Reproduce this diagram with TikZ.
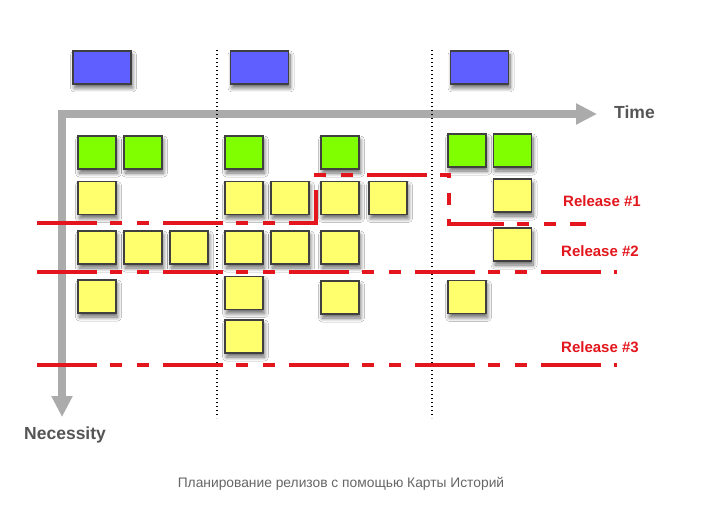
\documentclass[tikz,border=0pt]{standalone}
\usepackage{fontspec}
\setmainfont{Liberation Sans}
\usetikzlibrary{arrows.meta,shadows.blur}
\definecolor{axisgray}{HTML}{ABABAB}
\definecolor{labelgray}{HTML}{555555}
\definecolor{relred}{HTML}{E3161D}
\definecolor{cardgreen}{HTML}{80FF00}
\definecolor{cardyellow}{HTML}{FFFF6E}
\definecolor{cardblue}{HTML}{5F5FFF}
\tikzset{
  card/.style={draw=black!75, line width=1.2pt, minimum width=38pt, minimum height=33pt,
    inner sep=0pt, blur shadow={shadow xshift=1.5pt, shadow yshift=-4pt, shadow blur steps=8, shadow blur radius=4pt, shadow opacity=60}},
  greencard/.style={card, fill=cardgreen},
  yellowcard/.style={card, fill=cardyellow},
  bluecard/.style={card, fill=cardblue, minimum width=58pt},
  release/.style={draw=relred, line width=3.2pt, dash pattern=on 60pt off 13pt on 12pt off 15pt on 12pt off 14pt},
  releaselabel/.style={text=relred, font=\bfseries\fontsize{15}{17}\selectfont, anchor=west, inner sep=0pt},
  axislabel/.style={text=labelgray, font=\bfseries\fontsize{17.5}{20}\selectfont, inner sep=0pt},
  iteration/.style={line width=1.4pt, dash pattern=on 1.4pt off 2.6pt}
}
\begin{document}
\begin{tikzpicture}[x=1pt, y=-1pt]
		%%%%% FRAME %%%%%
		\useasboundingbox[fill=white] (0, 0) rectangle (711, 529);
		
		%%%%% AXES %%%%%
		\coordinate (origin) at (62, 114);
		\coordinate (timeend) at (597, 114);
		\coordinate (needend) at (62, 417);
		\draw[axisgray, line width=8pt, miter limit=10, {Triangle[length=21pt, width=20pt]}-{Triangle[length=21pt, width=20pt]}] (needend) -- (origin) -- (timeend);
		\node[axislabel, anchor=west] (time) at (614, 112) {Time};
		\node[axislabel, anchor=west] (necessity) at (24, 435) {Necessity};
		
		%%%%% ITERATIONS %%%%%
		\draw[iteration] (217, 50) -- (217, 418);
		\draw[iteration] (432, 50) -- (432, 418);
		
		%%%%% ACTIVITIES %%%%%
		\node[bluecard] (act1) at (102, 67.5) {};
		\node[bluecard] (act2) at (259.5, 67.5) {};
		\node[bluecard] (act3) at (479.5, 67.5) {};
		
		%%%%% BACKBONE %%%%%
		\node[greencard] (g1) at (97, 152.5) {};
		\node[greencard] (g2) at (143, 152.5) {};
		\node[greencard] (g3) at (244, 152.5) {};
		\node[greencard] (g4) at (340, 152.5) {};
		\node[greencard] (g5) at (467, 150.5) {};
		\node[greencard] (g6) at (512.5, 150.5) {};
		
		%%%%% STORIES %%%%%
		\node[yellowcard] (y11) at (97, 198) {};
		\node[yellowcard] (y13) at (244, 198) {};
		\node[yellowcard] (y14) at (290, 198) {};
		\node[yellowcard] (y15) at (340, 198) {};
		\node[yellowcard] (y16) at (388, 198) {};
		\node[yellowcard] (y17) at (512.5, 195.5) {};
		
		\node[yellowcard] (y21) at (97, 247.5) {};
		\node[yellowcard] (y22) at (143, 247.5) {};
		\node[yellowcard] (y23) at (189, 247.5) {};
		\node[yellowcard] (y24) at (244, 247.5) {};
		\node[yellowcard] (y25) at (290, 247.5) {};
		\node[yellowcard] (y26) at (340, 247.5) {};
		\node[yellowcard] (y27) at (512.5, 244.5) {};
		
		\node[yellowcard] (y31) at (97, 296.5) {};
		\node[yellowcard] (y32) at (244, 293) {};
		\node[yellowcard] (y33) at (340, 297.5) {};
		\node[yellowcard] (y34) at (467, 297) {};
		\node[yellowcard] (y41) at (244, 336.5) {};
		
		%%%%% RELEASES %%%%%
		\draw[release] (37, 223) -- (316, 223) -- (316, 175) -- (449, 175) -- (449, 224) -- (586, 224);
		\draw[release] (37, 272) -- (617, 272);
		\draw[release] (37, 365) -- (617, 365);
		\node[releaselabel] (rel1) at (563, 201) {Release \#1};
		\node[releaselabel] (rel2) at (561, 251) {Release \#2};
		\node[releaselabel] (rel3) at (561, 347) {Release \#3};
		
		%%%%% CAPTION %%%%%
		\node[text=black!60, font=\fontsize{13.8}{16}\selectfont, inner sep=0pt] (caption) at (341, 484) {Планирование релизов с помощью Карты Историй};
		
		%%%%% END %%%%%
	\end{tikzpicture}
\end{document}
